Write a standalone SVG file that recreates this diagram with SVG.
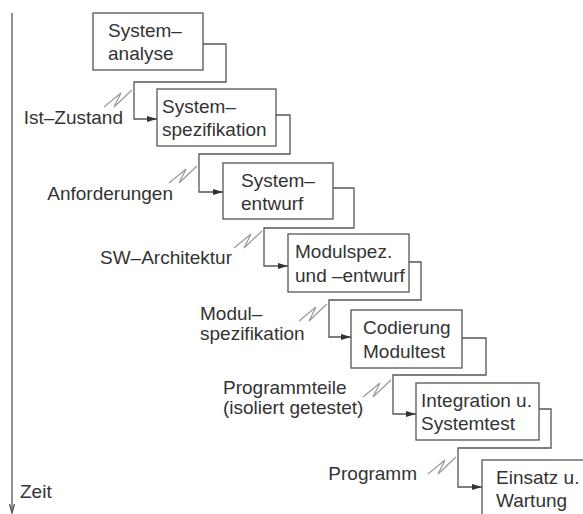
<svg xmlns="http://www.w3.org/2000/svg" width="583" height="514" viewBox="0 0 583 514">
  <style>
    text { font-family: "Liberation Sans", Arial, sans-serif; font-size: 19px; fill: #333; }
    .lbl { text-anchor: end; }
    .box { fill: #fff; stroke: #555; stroke-width: 1.3; }
    .flow { fill: none; stroke: #555; stroke-width: 1.3; marker-end: url(#head); }
    .brk { fill: none; stroke: #9a9a9a; stroke-width: 1.2; stroke-linejoin: miter; }
    .axis { fill: none; stroke: #555; stroke-width: 1.3; }
  </style>
  <defs>
    <marker id="head" viewBox="0 0 10 6" refX="10" refY="3" markerWidth="10" markerHeight="6" markerUnits="userSpaceOnUse" orient="auto">
      <path d="M0,0 L10,3 L0,6 Z" fill="#333"/>
    </marker>
    <path id="brk" d="M0,17 L17,3 L10,17 L28,0"/>
  </defs>

  <rect width="583" height="514" fill="#fff"/>

  <!-- time axis -->
  <g id="axis">
    <line class="axis" x1="12" y1="13" x2="12" y2="512"/>
    <path class="axis" d="M9.5,504 L12,513 L14.5,504"/>
    <text x="20" y="498">Zeit</text>
  </g>

  <!-- phases -->
  <g id="systemanalyse">
    <rect class="box" x="93" y="13" width="110" height="57"/>
    <text x="108" y="37">System–</text>
    <text x="108" y="60">analyse</text>
  </g>
  <g id="systemspezifikation">
    <rect class="box" x="157" y="89" width="119" height="57"/>
    <text x="162" y="113">System–</text>
    <text x="162" y="136">spezifikation</text>
  </g>
  <g id="systementwurf">
    <rect class="box" x="223" y="163" width="110" height="56"/>
    <text x="241" y="187">System–</text>
    <text x="241" y="210">entwurf</text>
  </g>
  <g id="modulentwurf">
    <rect class="box" x="288" y="234" width="121" height="58"/>
    <text x="295" y="258">Modulspez.</text>
    <text x="295" y="282">und –entwurf</text>
  </g>
  <g id="codierung">
    <rect class="box" x="351" y="310" width="111" height="58"/>
    <text x="363" y="334">Codierung</text>
    <text x="363" y="358">Modultest</text>
  </g>
  <g id="integration">
    <rect class="box" x="416" y="383" width="123" height="57"/>
    <text x="421" y="407">Integration u.</text>
    <text x="421" y="430">Systemtest</text>
  </g>
  <g id="einsatz">
    <rect class="box" x="482" y="460" width="130" height="80"/>
    <text x="496" y="484">Einsatz u.</text>
    <text x="496" y="507">Wartung</text>
  </g>

  <!-- hand-over connectors with their results -->
  <g id="connectors">
    <path class="flow" d="M203,44 H226 V82 H134 V119 H157"/>
    <path class="flow" d="M276,115 H290 V154 H199 V192 H223"/>
    <path class="flow" d="M333,188 H354 V228 H264 V266 H288"/>
    <path class="flow" d="M409,262 H421 V300 H329 V337 H351"/>
    <path class="flow" d="M462,338 H486 V375 H393 V414 H416"/>
    <path class="flow" d="M539,409 H551 V448 H458 V487 H482"/>

    <use href="#brk" class="brk" x="104" y="90"/>
    <use href="#brk" class="brk" x="169" y="166"/>
    <use href="#brk" class="brk" x="234" y="231"/>
    <use href="#brk" class="brk" x="299" y="304"/>
    <use href="#brk" class="brk" x="363" y="380"/>
    <use href="#brk" class="brk" x="428" y="457"/>

    <text class="lbl" x="123" y="124">Ist–Zustand</text>
    <text class="lbl" x="173" y="200">Anforderungen</text>
    <text class="lbl" x="232" y="264">SW–Architektur</text>
    <text x="200" y="320">Modul–</text>
    <text x="200" y="340">spezifikation</text>
    <text x="223" y="394">Programmteile</text>
    <text x="223" y="414">(isoliert getestet)</text>
    <text class="lbl" x="417" y="480">Programm</text>
  </g>
</svg>
